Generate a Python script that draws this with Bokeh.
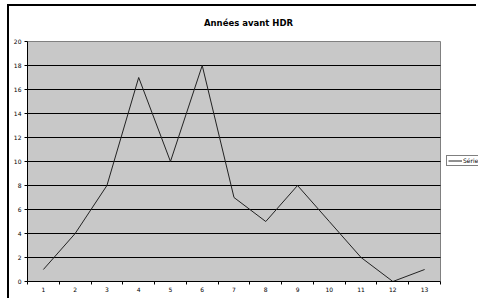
from bokeh.plotting import figure
from bokeh.models import FixedTicker, Legend, LegendItem, Label, Range1d
from bokeh.embed import file_html
from bokeh.resources import INLINE

# Data
categories = [1, 2, 3, 4, 5, 6, 7, 8, 9, 10, 11, 12, 13]
tick_labels = ["1", "2", "3", "4", "5", "6", "7", "8", "9", "10", "11", "12", "13"]
values = [1, 4, 8, 17, 10, 18, 7, 5, 8, 5, 2, 0, 1]
y_ticks = [0, 2, 4, 6, 8, 10, 12, 14, 16, 18, 20]
series_name = "Série1"
title_text = "Années avant HDR"

FONT = "DejaVu Sans"

x_lo = categories[0] - 0.5
x_hi = categories[-1] + 0.5
y_lo, y_hi = y_ticks[0], y_ticks[-1]

# frame extends right and up to hold legend and title (plot area drawn as a box inside it)
p = figure(width=469, height=294, output_backend="svg", toolbar_location=None,
           x_range=Range1d(x_lo, 14.696), y_range=Range1d(y_lo, 22.9167),
           min_border_left=18, min_border_right=0, min_border_top=0, min_border_bottom=19)
p.styles = {"border-left": "2px solid black", "border-top": "2px solid black",
            "margin-left": "7px", "margin-top": "4px"}

p.background_fill_color = "white"
p.border_fill_color = "white"
p.outline_line_color = None

# Title
p.add_layout(Label(text=title_text, x=221, y=259, x_units="screen", y_units="screen",
                   text_align="center", text_baseline="alphabetic", text_font=FONT,
                   text_font_size="8.5px", text_font_style="bold", text_color="black"))

# plot area box
p.quad(left=[x_lo], right=[x_hi], bottom=[y_lo], top=[y_hi],
       fill_color="#C8C8C8", line_color="#808080", line_width=1)

# gridlines
grid_y = [t for t in y_ticks if y_lo < t < y_hi]
p.segment(x0=[x_lo] * len(grid_y), x1=[x_hi] * len(grid_y), y0=grid_y, y1=grid_y,
          line_color="black", line_width=1)
p.xgrid.visible = False
p.ygrid.visible = False

# Axes
xa = p.xaxis[0]
xa.bounds = (x_lo, x_hi)
xa.ticker = FixedTicker(ticks=categories, minor_ticks=[c - 0.5 for c in categories] + [x_hi])
xa.major_label_overrides = {c: t for c, t in zip(categories, tick_labels)}
xa.major_tick_out = 0
xa.major_tick_in = 0
xa.minor_tick_out = 3
xa.minor_tick_in = 0
xa.minor_tick_line_color = "black"
xa.axis_line_color = "black"
xa.major_label_text_font = FONT
xa.major_label_text_font_size = "6px"
xa.major_label_text_color = "black"
xa.major_label_standoff = 2

ya = p.yaxis[0]
ya.bounds = (y_lo, y_hi)
ya.ticker = FixedTicker(ticks=y_ticks)
ya.major_tick_out = 3
ya.major_tick_in = 0
ya.minor_tick_out = 0
ya.minor_tick_in = 0
ya.axis_line_color = "black"
ya.major_tick_line_color = "black"
ya.major_label_text_font = FONT
ya.major_label_text_font_size = "6px"
ya.major_label_text_color = "black"
ya.major_label_standoff = 3

r = p.line(categories, values, line_color="#222222", line_width=1)

legend = Legend(items=[LegendItem(label=series_name, renderers=[r])],
                location=(419, 115), orientation="vertical",
                border_line_color="black", border_line_width=1,
                background_fill_color="white", background_fill_alpha=1,
                padding=1, margin=0, spacing=0,
                glyph_width=14, glyph_height=7, label_height=7, label_standoff=1,
                label_text_font=FONT, label_text_font_size="6px", label_text_color="black")
p.add_layout(legend, "center")

open("out.html", "w").write(file_html(p, INLINE))
